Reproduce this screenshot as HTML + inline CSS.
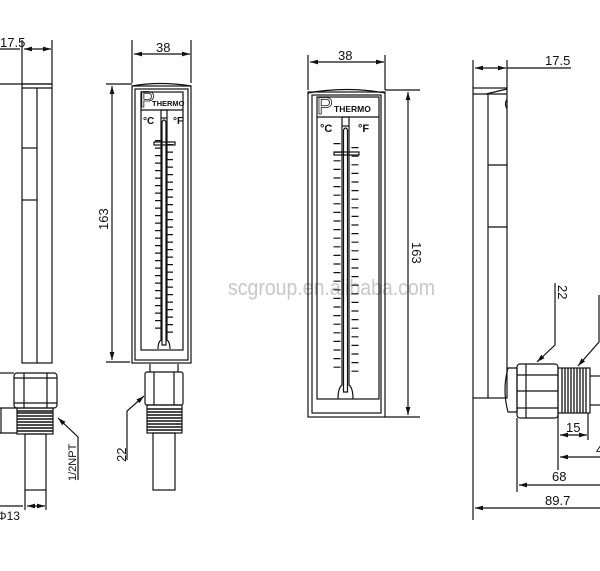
<!DOCTYPE html>
<html><head><meta charset="utf-8"><style>
html,body{margin:0;padding:0;background:#fff;}
svg{display:block;}
text{font-family:"Liberation Sans",sans-serif;fill:#111;}
</style></head><body>
<svg width="600" height="571" viewBox="0 0 600 571" xmlns="http://www.w3.org/2000/svg">
<defs>
<marker id="a" viewBox="0 0 10 6" refX="10" refY="3" markerWidth="8" markerHeight="4" orient="auto-start-reverse"><path d="M0,0L10,3L0,6z" fill="#111"/></marker>
</defs>
<text x="228" y="295" font-size="22" textLength="207" lengthAdjust="spacingAndGlyphs" style="fill:#c8c8c8">scgroup.en.alibaba.com</text>
<g stroke="#111" stroke-width="1.2" fill="none">
<!-- LEFT SIDE VIEW -->
<line x1="22" y1="40" x2="22" y2="84"/><line x1="52" y1="40" x2="52" y2="84"/>
<line x1="0" y1="49" x2="20" y2="49"/>
<line x1="24" y1="49" x2="51" y2="49" marker-start="url(#a)" marker-end="url(#a)"/>
<line x1="0" y1="84" x2="52" y2="84"/>
<rect x="22" y="84" width="30" height="279"/>
<line x1="37" y1="88" x2="37" y2="363"/>
<line x1="22" y1="88" x2="52" y2="88"/>
<line x1="22" y1="148" x2="37" y2="148"/><line x1="22" y1="200" x2="37" y2="200"/>
<rect x="14" y="373" width="43" height="35" rx="3"/>
<line x1="24" y1="373" x2="24" y2="408"/><line x1="47" y1="373" x2="47" y2="408"/>
<line x1="14" y1="378" x2="57" y2="378"/><line x1="14" y1="403" x2="57" y2="403"/>
<line x1="0" y1="373" x2="14" y2="373"/><line x1="0" y1="408" x2="17" y2="408"/><line x1="0" y1="433" x2="17" y2="433"/>
<line x1="1" y1="408" x2="1" y2="433"/>
<rect x="17" y="408" width="36" height="26"/>
<path d="M17 411h36M17 413h36M17 416h36M17 419h36M17 422h36M17 425h36M17 428h36M17 431h36" stroke-width="1.4"/>
<rect x="25" y="434" width="21" height="56"/>
<line x1="25" y1="490" x2="25" y2="510"/><line x1="46" y1="490" x2="46" y2="510"/>
<line x1="0" y1="506" x2="23" y2="506"/>
<line x1="27" y1="506" x2="45" y2="506" marker-start="url(#a)" marker-end="url(#a)"/>
<path d="M78 480V437L58 418" marker-end="url(#a)"/>

<!-- MIDDLE FRONT VIEW -->
<line x1="132" y1="40" x2="132" y2="83"/><line x1="191" y1="40" x2="191" y2="83"/>
<line x1="134" y1="54" x2="190" y2="54" marker-start="url(#a)" marker-end="url(#a)"/>
<line x1="106" y1="84" x2="132" y2="84"/><line x1="106" y1="362" x2="130" y2="362"/>
<line x1="112" y1="86" x2="112" y2="360" marker-start="url(#a)" marker-end="url(#a)"/>
<path d="M132 86Q160 81 191 86"/>
<rect x="132" y="86" width="59" height="277"/>
<rect x="135" y="89" width="53" height="271"/>
<rect x="141" y="92" width="42" height="258"/>
<line x1="141" y1="110" x2="183" y2="110"/>
<rect x="161" y="110" width="6" height="8"/>
<path d="M161 118V340Q158 342 158 349M167 118V340Q170 342 170 349"/>
<path d="M162 122q2-4 4 0V345h-4z"/>
<rect x="154" y="142" width="21" height="3"/>
<line x1="158" y1="140" x2="158" y2="335" stroke-width="6" stroke-dasharray="1.2 6.3"/>
<line x1="170" y1="144" x2="170" y2="335" stroke-width="6" stroke-dasharray="1.2 6.3"/>
<rect x="145" y="372" width="38" height="33" rx="2"/>
<line x1="154" y1="372" x2="154" y2="405"/><line x1="174" y1="372" x2="174" y2="405"/>
<line x1="150" y1="364" x2="150" y2="372"/><line x1="178" y1="364" x2="178" y2="372"/>
<rect x="147" y="405" width="35" height="28"/>
<path d="M147 409h35M147 412h35M147 415h35M147 418h35M147 421h35M147 424h35M147 427h35M147 430h35" stroke-width="1.4"/>
<rect x="153" y="433" width="22" height="57"/>
<path d="M127 460V411L144 396" marker-end="url(#a)"/>

<!-- THIRD FRONT VIEW -->
<line x1="308" y1="55" x2="308" y2="90"/><line x1="385" y1="55" x2="385" y2="90"/>
<line x1="310" y1="62" x2="384" y2="62" marker-start="url(#a)" marker-end="url(#a)"/>
<line x1="385" y1="90" x2="420" y2="90"/><line x1="385" y1="417" x2="420" y2="417"/>
<line x1="408" y1="92" x2="408" y2="415" marker-start="url(#a)" marker-end="url(#a)"/>
<path d="M308 93Q346 86 385 93"/>
<rect x="308" y="92" width="77" height="325"/>
<rect x="312" y="95" width="69" height="318"/>
<rect x="317" y="97" width="62" height="302"/>
<line x1="317" y1="117" x2="379" y2="117"/>
<rect x="342" y="117" width="7" height="9"/>
<path d="M342 126V385Q338 388 338 399M349 126V385Q353 388 353 399"/>
<path d="M343.5 130q2-4 4 0V392h-4z"/>
<rect x="334" y="152" width="25" height="3"/>
<line x1="337" y1="143" x2="337" y2="372" stroke-width="7" stroke-dasharray="1.2 7.4"/>
<line x1="355" y1="147" x2="355" y2="372" stroke-width="7" stroke-dasharray="1.2 7.4"/>

<!-- RIGHT SIDE VIEW -->
<line x1="473" y1="60" x2="473" y2="88"/><line x1="507" y1="60" x2="507" y2="88"/>
<line x1="475" y1="68" x2="506" y2="68" marker-start="url(#a)" marker-end="url(#a)"/>
<line x1="507" y1="68" x2="571" y2="68"/>
<rect x="473" y="88" width="34" height="310"/>
<line x1="473" y1="94" x2="507" y2="94"/>
<path d="M486 94L507 89"/>
<line x1="488" y1="94" x2="488" y2="398"/>
<line x1="488" y1="165" x2="507" y2="165"/><line x1="488" y1="227" x2="507" y2="227"/>
<path d="M507 99q-3 5 0 10"/>
<path d="M508 368q-6 22 0 44h9v-44z"/>
<rect x="517" y="364" width="41" height="54" rx="3"/>
<line x1="526" y1="364" x2="526" y2="418"/><line x1="517" y1="375" x2="558" y2="375"/><line x1="517" y1="408" x2="558" y2="408"/>
<line x1="517" y1="391" x2="558" y2="391"/>
<rect x="558" y="368" width="32" height="45"/>
<path d="M562 368v45M565 368v45M568 368v45M571 368v45M574 368v45M577 368v45M580 368v45M583 368v45M586 368v45" stroke-width="1.3"/>
<line x1="590" y1="376" x2="600" y2="376"/><line x1="590" y1="405" x2="600" y2="405"/>
<line x1="558" y1="413" x2="558" y2="470"/><line x1="588" y1="413" x2="588" y2="440"/>
<line x1="560" y1="435" x2="587" y2="435" marker-start="url(#a)" marker-end="url(#a)"/>
<line x1="560" y1="457" x2="600" y2="457" marker-start="url(#a)"/>
<line x1="517" y1="418" x2="517" y2="492"/>
<line x1="519" y1="485" x2="600" y2="485" marker-start="url(#a)"/>
<line x1="473" y1="398" x2="473" y2="520"/>
<line x1="475" y1="508" x2="600" y2="508" marker-start="url(#a)"/>
<path d="M555 283V345L537 362" marker-end="url(#a)"/>
<path d="M599 295V342L578 366" marker-end="url(#a)"/>
</g>
<!-- TEXT -->
<text x="0" y="47" font-size="13">17.5</text>
<text x="-3" y="520" font-size="12">Φ13</text>
<text transform="translate(76,481) rotate(-90)" font-size="11">1/2NPT</text>
<text x="156" y="52" font-size="13">38</text>
<text transform="translate(108,230) rotate(-90)" font-size="13">163</text>
<text x="140" y="107" font-size="22" style="fill:none;stroke:#111;stroke-width:0.8">P</text>
<text x="152" y="106" font-size="7.5" font-weight="bold">THERMO</text>
<text x="143" y="124" font-size="10" font-weight="bold">°C</text>
<text x="173" y="124" font-size="10" font-weight="bold">°F</text>
<text transform="translate(126,462) rotate(-90)" font-size="13">22</text>
<text x="338" y="60" font-size="13">38</text>
<text transform="translate(412,242) rotate(90)" font-size="13">163</text>
<text x="317" y="114" font-size="24" style="fill:none;stroke:#111;stroke-width:0.8">P</text>
<text x="334" y="112" font-size="8.5" font-weight="bold">THERMO</text>
<text x="320" y="132" font-size="11" font-weight="bold">°C</text>
<text x="358" y="132" font-size="11" font-weight="bold">°F</text>
<text x="545" y="65" font-size="13">17.5</text>
<text transform="translate(558,285) rotate(90)" font-size="13">22</text>
<text x="566" y="432" font-size="13">15</text>
<text x="596" y="454" font-size="13">4</text>
<text x="552" y="481" font-size="13">68</text>
<text x="545" y="505" font-size="13">89.7</text>
</svg>
</body></html>
